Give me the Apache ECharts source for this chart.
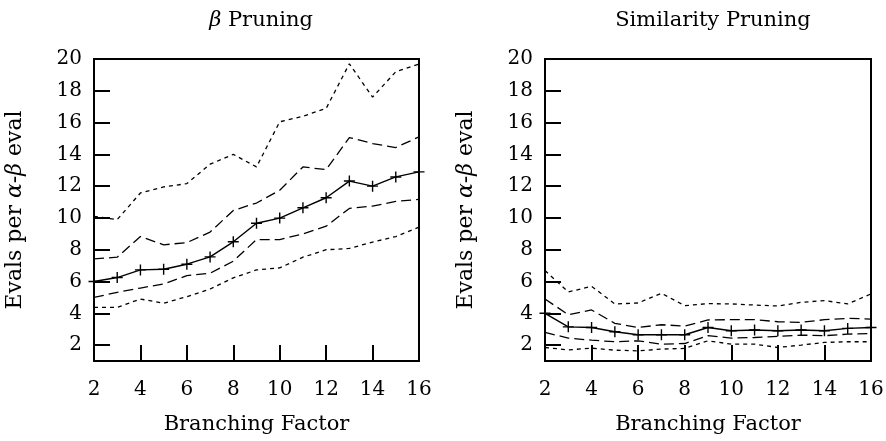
<!DOCTYPE html>
<html><head><meta charset="utf-8">
<script src="https://cdn.jsdelivr.net/npm/echarts@6/dist/echarts.min.js"></script>
<style>html,body{margin:0;padding:0;background:#fff}#c{width:886px;height:441px}</style>
</head><body><div id="c"></div>
<script>
var branching = [2,3,4,5,6,7,8,9,10,11,12,13,14,15,16];
var yTicks = [2,4,6,8,10,12,14,16,18,20];
var xTicks = [2,4,6,8,10,12,14,16];

var betaMax   = [10.1, 9.9, 11.57, 11.95, 12.16, 13.38, 14.0, 13.21, 16.05, 16.4, 16.89, 19.7, 17.6, 19.2, 19.68];
var betaUpper = [7.42, 7.53, 8.83, 8.31, 8.45, 9.11, 10.47, 10.94, 11.74, 13.21, 13.04, 15.06, 14.68, 14.43, 15.1];
var betaMean  = [6.0, 6.25, 6.73, 6.77, 7.09, 7.55, 8.5, 9.67, 9.99, 10.64, 11.27, 12.32, 12.0, 12.58, 12.9];
var betaLower = [5.0, 5.32, 5.59, 5.85, 6.37, 6.52, 7.28, 8.64, 8.64, 9.0, 9.48, 10.6, 10.75, 11.04, 11.17];
var betaMin   = [4.37, 4.37, 4.9, 4.63, 5.05, 5.53, 6.23, 6.73, 6.86, 7.53, 8.0, 8.08, 8.48, 8.83, 9.42];

var simMax   = [6.69, 5.34, 5.7, 4.59, 4.65, 5.26, 4.48, 4.61, 4.59, 4.52, 4.46, 4.69, 4.8, 4.59, 5.22];
var simUpper = [4.9, 3.91, 4.21, 3.37, 3.11, 3.28, 3.2, 3.58, 3.6, 3.6, 3.47, 3.43, 3.6, 3.68, 3.64];
var simMean  = [4.0, 3.15, 3.11, 2.84, 2.65, 2.65, 2.65, 3.11, 2.9, 2.95, 2.9, 2.95, 2.9, 3.05, 3.11];
var simLower = [2.8, 2.44, 2.31, 2.21, 2.27, 2.06, 2.1, 2.59, 2.44, 2.48, 2.55, 2.63, 2.59, 2.69, 2.73];
var simMin   = [1.85, 1.7, 1.81, 1.68, 1.64, 1.75, 1.79, 2.27, 2.06, 2.06, 1.85, 2.0, 2.17, 2.21, 2.21];

var FONT = 'DejaVu Serif';
var FS = 20;
var NFS = 21;
function pairs(arr){ return branching.map(function(x,i){ return [x, arr[i]]; }); }
var plusSymbol = 'path://M0,5L10,5M5,0L5,10';

function lineSeries(arr, idx, kind){
  var s = {type:'line', xAxisIndex:idx, yAxisIndex:idx, data:pairs(arr), animation:false,
    lineStyle:{color:'#000', width:1.3}, symbol:'none', silent:true};
  if(kind==='short'){ s.lineStyle.type=[4,4]; }
  if(kind==='long'){ s.lineStyle.type=[10,5]; }
  if(kind==='mean'){
    s.symbol = plusSymbol; s.symbolSize = 11; s.showSymbol = true;
    s.itemStyle = {color:'rgba(0,0,0,0)', borderColor:'#000', borderWidth:1.4};
    s.lineStyle.width = 1.4;
  }
  return s;
}

var rich = {
  r:{fontFamily:FONT, fontSize:NFS, color:'#000', fontWeight:'normal'},
  i:{fontFamily:FONT, fontSize:NFS, color:'#000', fontWeight:'normal', fontStyle:'italic'}
};
var richY = {
  r:{fontFamily:FONT, fontSize:22, color:'#000', fontWeight:'normal'},
  i:{fontFamily:FONT, fontSize:22, color:'#000', fontWeight:'normal', fontStyle:'italic'}
};

function xAxis(idx){
  return {type:'value', gridIndex:idx, min:2, max:16, interval:2,
    name:'Branching Factor', nameLocation:'middle', nameGap:53,
    nameTextStyle:{fontFamily:FONT, fontSize:NFS, color:'#000'},
    axisLine:{show:true, lineStyle:{color:'#000', width:2}},
    axisTick:{show:true, inside:true, length:16, lineStyle:{color:'#000', width:2}, customValues:xTicks},
    axisLabel:{fontFamily:FONT, fontSize:FS, color:'#000', margin:19, customValues:xTicks},
    splitLine:{show:false}};
}
function yAxis(idx){
  return {type:'value', gridIndex:idx, min:1, max:20,
    name:'{r|Evals per }{i|α}{r|-}{i|β}{r| eval}', nameLocation:'middle', nameGap:68, nameRotate:90,
    nameTextStyle:{rich:richY},
    axisLine:{show:true, lineStyle:{color:'#000', width:2}},
    axisTick:{show:true, inside:true, length:16, lineStyle:{color:'#000', width:2}, customValues:yTicks},
    axisLabel:{fontFamily:FONT, fontSize:FS, color:'#000', margin:12, customValues:yTicks},
    splitLine:{show:false}};
}

var chart = echarts.init(document.getElementById('c'), null, {renderer:'canvas'});
chart.setOption({
  animation:false,
  backgroundColor:'#fff',
  title:[
    {text:'{i|β}{r| Pruning}', left:256, top:5, textAlign:'center', textStyle:{rich:rich}},
    {text:'{r|Similarity Pruning}', left:708, top:5, textAlign:'center', textStyle:{rich:rich}}
  ],
  grid:[
    {left:94, right:467, top:59, bottom:80, show:true, borderColor:'#000', borderWidth:2, backgroundColor:'transparent', outerBoundsMode:'none', containLabel:false},
    {left:545, right:15, top:59, bottom:80, show:true, borderColor:'#000', borderWidth:2, backgroundColor:'transparent', outerBoundsMode:'none', containLabel:false}
  ],
  xAxis:[xAxis(0), xAxis(1)],
  yAxis:[yAxis(0), yAxis(1)],
  series:[
    lineSeries(betaMax,0,'short'),
    lineSeries(betaUpper,0,'long'),
    lineSeries(betaMean,0,'mean'),
    lineSeries(betaLower,0,'long'),
    lineSeries(betaMin,0,'short'),
    lineSeries(simMax,1,'short'),
    lineSeries(simUpper,1,'long'),
    lineSeries(simMean,1,'mean'),
    lineSeries(simLower,1,'long'),
    lineSeries(simMin,1,'short')
  ]
});
</script></body></html>
